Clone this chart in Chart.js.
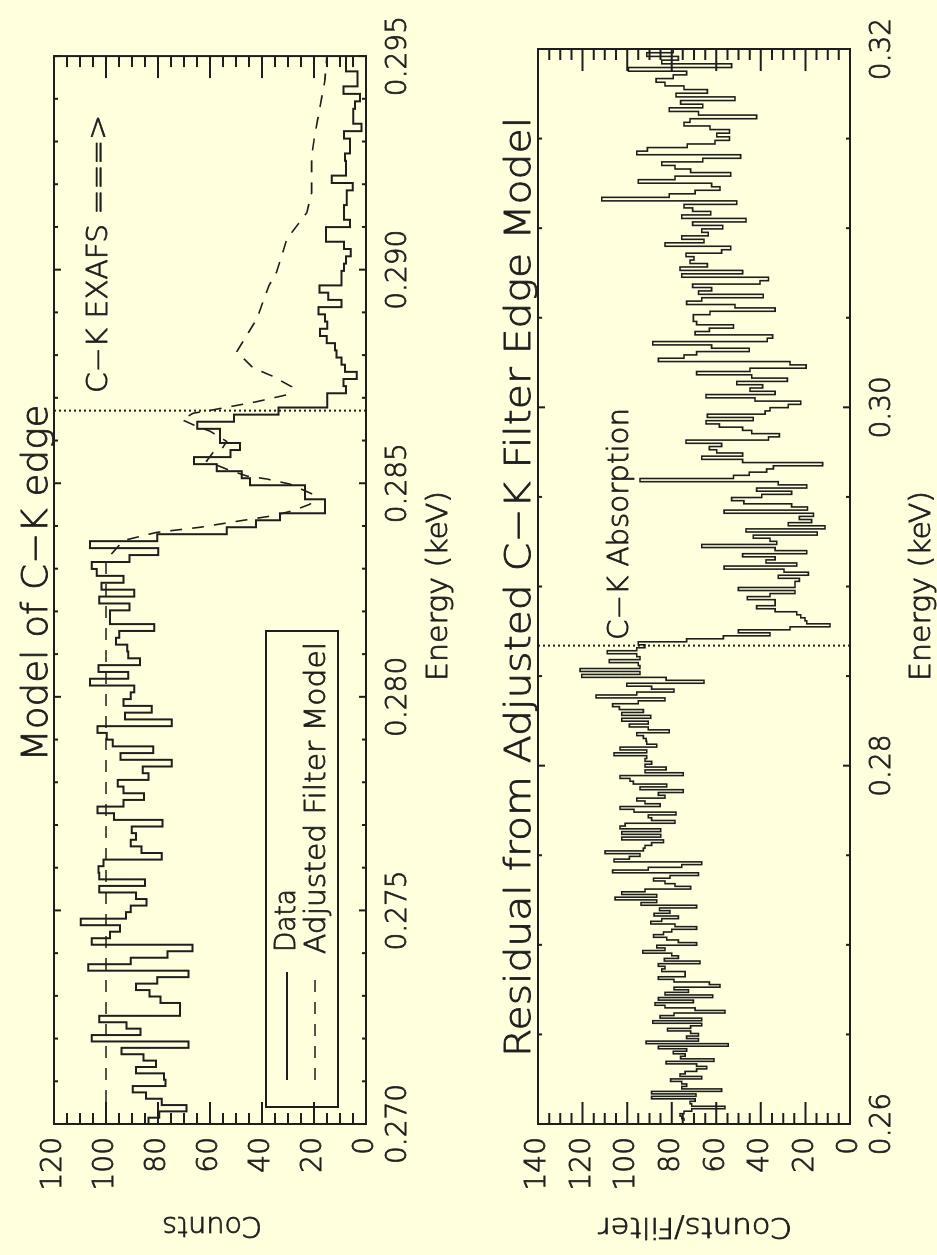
<!DOCTYPE html>
<html>
<head>
<meta charset="utf-8">
<title>C-K edge model</title>
<script src="https://cdn.jsdelivr.net/npm/chart.js@4/dist/chart.umd.min.js"></script>
<style>
  html, body { margin: 0; padding: 0; width: 937px; height: 1255px; overflow: hidden; background: #ffffde; }
  /* The figure is laid out in landscape and turned a quarter turn for the portrait page */
  #sheet { position: absolute; left: 0; top: 0; width: 1255px; height: 937px;
           transform-origin: 0 0; transform: translate(0, 1255px) rotate(-90deg); background: #ffffde; }
  #sheet canvas { position: absolute; left: 0; display: block; }
</style>
</head>
<body>
<div id="sheet">
  <canvas id="modelPanel" width="1255" height="470" style="top:0"></canvas>
  <canvas id="residualPanel" width="1255" height="467" style="top:470px"></canvas>
</div>
<script>
const INK = '#1e1e1e';
const FAMILY = '"DejaVu Sans", "Liberation Sans", sans-serif';
const WEIGHT = 300;
const TEXT_STROKE = 0.8;

// Spectrometer channels are uniform in wavelength (Angstrom); energy = hc / lambda
const HC_KEV_A = 12.398;
const CHANNEL_A = 0.0251;

// Position of the adjusted carbon K edge (keV)
const edgeEnergy = 0.2867;

// ---- Upper panel: counts and adjusted filter model ----
const topEnergyTicks  = [0.270, 0.275, 0.280, 0.285, 0.290, 0.295];
const topEnergyLabels = ['0.270', '0.275', '0.280', '0.285', '0.290', '0.295'];
const topCountTicks   = [0, 20, 40, 60, 80, 100, 120];

// Counts per channel, channels running upward in energy from 0.270 keV
const dataCounts = [
  83.7, 79.5, 69.0, 78.6, 84.6, 89.7, 77.1, 77.7, 88.5, 80.8,
  85.6, 94.0, 68.3, 105.5, 86.7, 92.1, 102.6, 71.5, 71.5, 79.0,
  83.3, 88.5, 80.3, 68.3, 106.8, 90.5, 76.3, 66.7, 105.5, 98.5,
  94.6, 109.7, 92.3, 90.5, 84.4, 88.5, 102.6, 85.0, 102.6, 102.9,
  101.0, 78.6,
  86.3, 90.5, 88.5, 90.1, 78.3, 96.9, 103.3, 93.3, 85.4, 93.3,
  95.5, 83.7, 85.9, 74.7, 94.4, 81.8, 97.4, 99.7, 103.3, 74.7,
  92.7, 82.4, 93.3, 90.5, 89.1, 106.2, 91.4, 102.9, 86.9, 91.4,
  91.8, 96.2, 94.9, 81.4, 98.5, 98.5, 91.0, 102.6, 89.1, 101.7,
  93.3, 103.6,
  105.5, 91.0, 79.9, 106.2, 80.3, 53.6, 42.3, 33.1, 15.8, 15.8,
  23.5, 23.5, 44.6, 47.8, 57.4, 66.2, 52.1, 48.5, 56.2, 56.2,
  64.9, 50.8, 33.7, 14.9, 14.9, 7.7, 8.7, 3.6, 8.1, 9.4,
  11.3, 11.9, 15.1, 17.7, 14.9, 15.8, 18.3, 9.4, 14.5,
  17.9, 9.4, 9.4, 8.5, 7.7, 5.9, 8.5, 15.4, 15.4, 6.2,
  8.5, 8.5, 7.4, 7.4, 5.1, 13.2, 7.7, 7.7, 8.1, 6.2,
  6.2, 8.5, 1.7, 4.9, 4.9, 4.2, 2.3, 8.7, 3.3, 3.3,
  7.7, 7.7
];

// Adjusted filter model curve
const modelEnergy = [
  0.2700, 0.2832, 0.28366, 0.28385, 0.28397, 0.28412, 0.28424, 0.28436, 0.28451, 0.28474,
  0.28498, 0.28510, 0.28517, 0.28533, 0.28552, 0.28572, 0.28584, 0.28598, 0.28622, 0.28633,
  0.28649, 0.28664, 0.28672, 0.28691, 0.28707, 0.28726, 0.28750, 0.28770, 0.28808, 0.28885,
  0.28963, 0.28994, 0.29071, 0.29133, 0.29180, 0.29265, 0.29319, 0.29381, 0.29444, 0.2950
];
const modelCounts = [
  100, 100, 93.3, 80.5, 63.8, 48.5, 35.7, 28.0, 21.5, 20.4,
  29.2, 38.2, 45.9, 53.6, 61.3, 58.8, 55.0, 53.6, 60.0, 65.0,
  70.9, 66.4, 58.7, 42.0, 30.5, 28.6, 35.7, 43.4, 49.7, 42.0,
  37.3, 34.4, 30.5, 22.8, 20.9, 20.9, 19.6, 17.7, 15.8, 15.1
];

// ---- Lower panel: residual (counts / filter) ----
const residualEnergyTicks  = [0.26, 0.28, 0.30, 0.32];
const residualEnergyLabels = ['0.26', '0.28', '0.30', '0.32'];
const residualCountTicks   = [0, 20, 40, 60, 80, 100, 120, 140];

// Counts/filter per channel, channels running downward in energy from 0.32 keV
const residualCounts = [
  79.3, 91.2, 77.0, 84.5, 53.1, 99.4, 73.3, 79.3, 87.0, 83.0,
  74.5, 64.0, 78.1, 51.6, 76.0, 66.1, 81.1, 68.0, 41.9, 71.8,
  74.5, 62.8, 54.1, 59.8, 54.1, 60.6, 73.0, 90.9, 95.7, 49.1,
  66.1, 84.5, 78.5, 71.5, 53.5, 78.5, 95.0, 62.1, 58.3, 69.5,
  81.1, 111.4, 50.8, 74.5, 70.6, 62.5, 75.5, 46.7, 70.6, 57.1,
  66.5, 63.6, 75.5, 65.5, 83.0, 53.5, 57.6, 73.6, 70.0, 71.8,
  64.0, 76.3, 48.2, 75.5, 36.6, 40.4, 70.6, 62.1,
  68.0, 38.9, 66.5, 73.3, 51.6, 33.6, 62.8, 70.3, 70.3, 68.8,
  52.3, 63.1, 69.5, 34.7, 37.1, 88.5, 62.1, 45.2, 68.8, 74.5,
  86.0, 26.9, 19.7, 44.9, 68.8, 44.1, 28.1, 50.8, 39.2, 44.9,
  33.6, 64.6, 42.6, 22.1, 27.7, 35.9, 38.1, 64.0, 43.4, 64.6,
  58.6, 48.2, 44.1, 31.7, 36.6, 73.6, 57.6, 63.1, 59.8, 48.2,
  66.5, 48.2, 12.3, 34.4, 37.4, 45.2, 52.3, 94.2, 32.2, 19.4,
  41.9, 26.2, 39.6, 53.1, 47.6, 26.2, 19.1, 56.5, 16.4, 22.7,
  17.2, 27.7, 11.2, 46.7, 14.7, 43.4, 35.9, 32.9, 66.5, 33.6,
  19.4, 48.2, 33.6, 37.7, 23.9, 56.5,
  29.6, 18.7, 32.2, 22.7, 24.7, 24.7, 50.1, 24.7, 35.9, 46.1,
  33.6, 33.6, 41.9, 33.6, 23.9, 22.1, 20.2, 19.4, 9.0, 26.9,
  50.1, 35.9, 56.8, 73.3,
  95.0, 92.0, 95.7, 108.9, 95.7, 94.2, 108.0, 95.0, 94.2, 121.1,
  94.2, 120.4, 82.5, 65.5, 100.2, 89.0, 79.0, 95.7, 114.0, 83.0,
  95.0, 106.5, 103.5, 92.7, 102.4, 89.4, 102.4, 90.5, 99.0, 90.5,
  81.1, 95.7, 92.7, 91.5, 91.2, 86.7, 103.2, 91.2, 105.9, 91.2,
  92.0, 89.0, 92.0, 82.5, 92.0, 74.8, 103.2, 98.7, 97.2, 82.2,
  94.2, 74.8, 86.0, 83.0, 95.7, 92.0, 85.2, 103.2, 96.9, 78.1,
  90.5, 89.0, 78.5, 100.9, 103.2, 84.9, 102.4, 84.9, 102.4,
  83.7, 89.0, 92.0, 92.7, 109.9, 94.2, 99.0, 105.9, 66.5, 75.5,
  90.5, 106.5, 68.0, 80.8, 88.2, 83.0, 78.5, 71.5, 92.0, 102.4,
  86.7, 105.4, 86.7, 93.8, 68.8, 85.5, 80.8, 87.9, 77.0, 84.5,
  89.4, 78.5, 68.8, 80.0, 83.7, 88.2, 82.2, 77.0, 68.8, 86.7,
  83.0, 93.0, 80.0, 77.0, 83.3, 67.3, 86.0, 83.0, 84.5, 74.0,
  74.0, 86.0, 79.0, 63.1, 58.3, 79.0, 72.5, 83.0, 61.6, 86.0,
  70.3, 87.5, 83.0, 69.5, 56.1, 79.0, 85.2, 66.5, 88.5, 66.5,
  71.5, 81.9, 71.5, 68.0, 73.3, 68.0, 91.5, 54.6, 86.0, 73.3,
  79.3, 74.0, 76.0, 61.0, 82.5, 68.8, 64.3, 68.8, 74.0, 76.3,
  66.5, 80.5, 75.5, 73.3, 75.5, 57.6, 89.0, 69.1, 89.0, 69.5,
  71.8, 71.0, 56.1, 71.0, 74.5, 76.3, 75.5, 74.5
];

// Histogram outline: channels stepping upward in energy from startKeV
function stepsUp(values, startKeV) {
  const pts = [];
  let lam = HC_KEV_A / startKeV;
  values.forEach(v => { pts.push({ x: HC_KEV_A / lam, y: v }); lam -= CHANNEL_A; });
  pts.push({ x: HC_KEV_A / lam, y: values[values.length - 1] });
  return pts;
}
// Histogram outline: channels listed downward in energy from startKeV
function stepsDown(values, startKeV) {
  const edges = [startKeV];
  let lam = HC_KEV_A / startKeV;
  values.forEach(() => { lam += CHANNEL_A; edges.push(HC_KEV_A / lam); });
  const pts = [];
  for (let k = values.length - 1; k >= 0; k--) pts.push({ x: edges[k + 1], y: values[k] });
  pts.push({ x: edges[0], y: values[0] });
  return pts;
}

// Text helper: optional horizontal fit to a given width, optional quarter-turn
function drawLabel(ctx, t) {
  ctx.save();
  ctx.font = `${WEIGHT} ${t.size}px ${FAMILY}`;
  ctx.fillStyle = INK;
  ctx.strokeStyle = INK;
  ctx.lineWidth = TEXT_STROKE;
  ctx.lineJoin = 'round';
  ctx.textBaseline = 'alphabetic';
  ctx.textAlign = t.align || 'left';
  const k = t.width ? t.width / ctx.measureText(t.text).width : 1;
  ctx.translate(t.x, t.y);
  if (t.rotate) ctx.rotate(-Math.PI / 2);
  ctx.scale(k, 1);
  ctx.fillText(t.text, 0, 0);
  ctx.strokeText(t.text, 0, 0);
  ctx.restore();
}

// Box with inward major and minor ticks on all four sides
function framePlugin(cfg) {
  return {
    id: 'frame',
    afterDatasetsDraw(chart) {
      const { ctx, chartArea: a, scales: { x, y } } = chart;
      ctx.save();
      ctx.strokeStyle = INK;
      ctx.lineWidth = 2;
      ctx.beginPath();
      const tick = (x0, y0, x1, y1) => { ctx.moveTo(x0, y0); ctx.lineTo(x1, y1); };
      const nx = Math.round((x.max - x.min) / cfg.xMinor);
      for (let i = 0; i <= nx; i++) {
        const v = x.min + i * cfg.xMinor;
        const px = x.getPixelForValue(v);
        const major = cfg.xTicks.some(t => Math.abs(t - v) < cfg.xMinor / 10);
        const len = major ? cfg.xMajorLen : cfg.xMinorLen;
        tick(px, a.bottom, px, a.bottom - len);
        tick(px, a.top, px, a.top + len);
      }
      const ny = Math.round((y.max - y.min) / cfg.yMinor);
      for (let i = 0; i <= ny; i++) {
        const v = y.min + i * cfg.yMinor;
        const py = y.getPixelForValue(v);
        const major = cfg.yTicks.includes(v);
        const len = major ? cfg.yMajorLen : cfg.yMinorLen;
        tick(a.left, py, a.left + len, py);
        tick(a.right, py, a.right - len, py);
      }
      ctx.stroke();
      ctx.strokeRect(a.left, a.top, a.right - a.left, a.bottom - a.top);
      ctx.restore();
    }
  };
}

function textPlugin(items, extra) {
  return {
    id: 'annotations',
    afterDraw(chart) {
      const ctx = chart.ctx;
      if (extra) extra(ctx);
      items.forEach(t => drawLabel(ctx, t));
    }
  };
}

function panelOptions(p) {
  const tickFont = { family: FAMILY, size: 28, weight: WEIGHT };
  const tickStyle = { color: INK, font: tickFont, textStrokeColor: INK, textStrokeWidth: TEXT_STROKE };
  return {
    responsive: false,
    animation: false,
    devicePixelRatio: 1,
    events: [],
    layout: { padding: { top: p.top, right: 49, bottom: 0, left: 0 } },
    plugins: { legend: { display: false }, tooltip: { enabled: false } },
    elements: { point: { radius: 0 }, line: { tension: 0 } },
    scales: {
      x: {
        type: 'linear', min: p.xMin, max: p.xMax,
        afterBuildTicks: s => { s.ticks = p.xTicks.map(v => ({ value: v })); },
        afterFit: s => { s.height = p.xHeight; },
        ticks: Object.assign({ autoSkip: false, maxRotation: 0, minRotation: 0, padding: 16,
                               callback: (v, i) => p.xLabels[i] }, tickStyle),
        grid: { display: false, drawTicks: false },
        border: { display: false }
      },
      y: {
        type: 'linear', min: 0, max: p.yMax,
        afterBuildTicks: s => { s.ticks = p.yTicks.map(v => ({ value: v })); },
        afterFit: s => { s.width = 131; },
        ticks: Object.assign({ autoSkip: false, padding: 13, callback: v => String(v) }, tickStyle),
        grid: { display: false, drawTicks: false },
        border: { display: false }
      }
    }
  };
}

// ---------- Upper panel ----------
const topMax = topCountTicks[topCountTicks.length - 1];
new Chart(document.getElementById('modelPanel'), {
  type: 'line',
  data: {
    datasets: [
      { label: 'Data', data: stepsUp(dataCounts, topEnergyTicks[0]), stepped: 'before',
        borderColor: INK, borderWidth: 2, fill: false },
      { label: 'Adjusted Filter Model', data: modelEnergy.map((e, i) => ({ x: e, y: modelCounts[i] })),
        borderColor: INK, borderWidth: 1.6, borderDash: [12, 10], fill: false },
      { label: 'edge', data: [{ x: edgeEnergy, y: 0 }, { x: edgeEnergy, y: topMax }],
        borderColor: INK, borderWidth: 2, borderDash: [2, 3], fill: false }
    ]
  },
  options: panelOptions({
    top: 54, xHeight: 104, xMin: topEnergyTicks[0], xMax: topEnergyTicks[topEnergyTicks.length - 1],
    xTicks: topEnergyTicks, xLabels: topEnergyLabels, yTicks: topCountTicks, yMax: topMax
  }),
  plugins: [
    framePlugin({ xMinor: 0.001, xTicks: topEnergyTicks, xMajorLen: 7, xMinorLen: 4,
                  yMinor: 5, yTicks: topCountTicks, yMajorLen: 22, yMinorLen: 11 }),
    textPlugin([
      { text: 'Model of C\u2212K edge', x: 672, y: 47, size: 36, align: 'center', width: 357 },
      { text: 'Energy (keV)', x: 669, y: 447, size: 28, align: 'center', width: 190 },
      { text: 'Counts', x: 38, y: 212, size: 28, align: 'center', rotate: true, width: 100 },
      { text: 'C\u2212K EXAFS ===>', x: 862, y: 107, size: 28, align: 'left', width: 278 },
      { text: 'Data', x: 303, y: 295, size: 28, align: 'left', width: 63 },
      { text: 'Adjusted Filter Model', x: 301, y: 325, size: 28, align: 'left', width: 312 }
    ], ctx => {
      // key box with line samples
      ctx.save();
      ctx.strokeStyle = INK;
      ctx.lineWidth = 2;
      ctx.strokeRect(148, 266, 476, 72);
      ctx.beginPath(); ctx.moveTo(175, 287); ctx.lineTo(283, 287); ctx.stroke();
      ctx.lineWidth = 1.6;
      ctx.setLineDash([12, 10]);
      ctx.beginPath(); ctx.moveTo(175, 315); ctx.lineTo(275, 315); ctx.stroke();
      ctx.restore();
    })
  ]
});

// ---------- Lower panel ----------
const resMax = residualCountTicks[residualCountTicks.length - 1];
new Chart(document.getElementById('residualPanel'), {
  type: 'line',
  data: {
    datasets: [
      { label: 'Residual', data: stepsDown(residualCounts, residualEnergyTicks[residualEnergyTicks.length - 1]),
        stepped: 'before', borderColor: INK, borderWidth: 1.6, fill: false },
      { label: 'edge', data: [{ x: edgeEnergy, y: 0 }, { x: edgeEnergy, y: resMax }],
        borderColor: INK, borderWidth: 2, borderDash: [2, 3], fill: false }
    ]
  },
  options: panelOptions({
    top: 68, xHeight: 87, xMin: residualEnergyTicks[0], xMax: residualEnergyTicks[residualEnergyTicks.length - 1],
    xTicks: residualEnergyTicks, xLabels: residualEnergyLabels, yTicks: residualCountTicks, yMax: resMax
  }),
  plugins: [
    framePlugin({ xMinor: 0.005, xTicks: residualEnergyTicks, xMajorLen: 7, xMinorLen: 4,
                  yMinor: 5, yTicks: residualCountTicks, yMajorLen: 22, yMinorLen: 11 }),
    textPlugin([
      { text: 'Residual from Adjusted C\u2212K Filter Edge Model', x: 668, y: 60, size: 36, align: 'center', width: 940 },
      { text: 'Energy (keV)', x: 669, y: 460, size: 28, align: 'center', width: 190 },
      { text: 'Counts/Filter', x: 37, y: 225, size: 28, align: 'center', rotate: true, width: 194 },
      { text: 'C\u2212K Absorption', x: 615, y: 158, size: 28, align: 'left', width: 232 }
    ])
  ]
});
</script>
</body>
</html>
